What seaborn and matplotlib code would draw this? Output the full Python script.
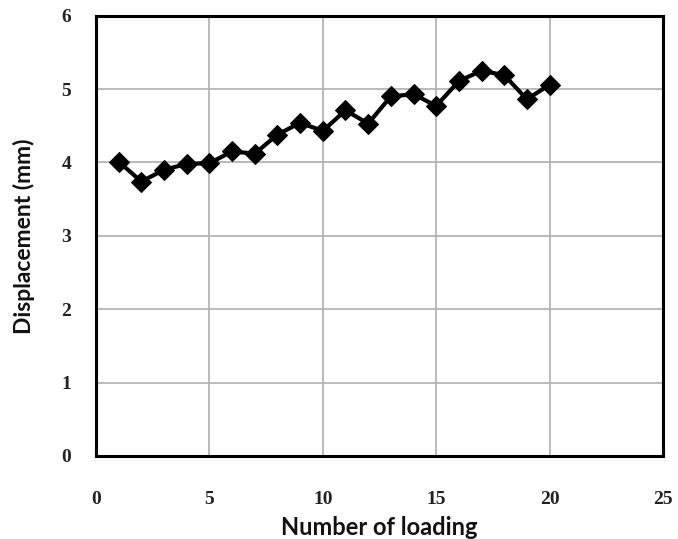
import pandas as pd
import seaborn as sns
import matplotlib.pyplot as plt

# %%
loading = [1, 2, 3, 4, 5, 6, 7, 8, 9, 10, 11, 12, 13, 14, 15, 16, 17, 18, 19, 20]
displacement = [4.01, 3.74, 3.90, 3.98, 3.99, 4.15, 4.12, 4.38, 4.54, 4.43,
                4.71, 4.53, 4.90, 4.93, 4.77, 5.11, 5.25, 5.19, 4.86, 5.06]
x_ticks = [0, 5, 10, 15, 20, 25]
y_ticks = [0, 1, 2, 3, 4, 5, 6]

df = pd.DataFrame({"loading": loading, "displacement": displacement})

# %%
sns.set_style("white")
plt.rcParams["font.family"] = ["Liberation Serif", "DejaVu Serif"]

fig = plt.figure(figsize=(6.78, 5.39), dpi=100)
ax = fig.add_axes([0.1416, 0.154, 0.8363, 0.8169])

_ = sns.lineplot(data=df, x="loading", y="displacement", ax=ax,
                 color="black", linewidth=3, marker="D", markersize=10,
                 markeredgecolor="black", markerfacecolor="black")

ax.set_xlim(0, 25)
ax.set_ylim(0, 6)
ax.set_xticks(x_ticks)
ax.set_yticks(y_ticks)
ax.grid(True, color="#b4b4b4", linewidth=1.3)
ax.set_axisbelow(True)

for side in ["left", "right", "top", "bottom"]:
    ax.spines[side].set_color("black")
    ax.spines[side].set_linewidth(2.2)

ax.tick_params(axis="both", which="major", direction="out", length=4,
               width=1, color="#999999", labelsize=14, labelcolor="#222222")
ax.tick_params(axis="y", pad=14)
ax.tick_params(axis="x", pad=21)
for lab in ax.get_xticklabels() + ax.get_yticklabels():
    lab.set_fontweight("bold")

ax.set_xlabel("Number of loading", fontsize=17, fontweight="bold",
              family=["Lato", "DejaVu Sans"], labelpad=6, color="#111111")
ax.set_ylabel("Displacement (mm)", fontsize=16.5, fontweight="bold",
              family=["Lato", "DejaVu Sans"], labelpad=19, color="#111111")

fig.savefig("out.png", dpi=100)
